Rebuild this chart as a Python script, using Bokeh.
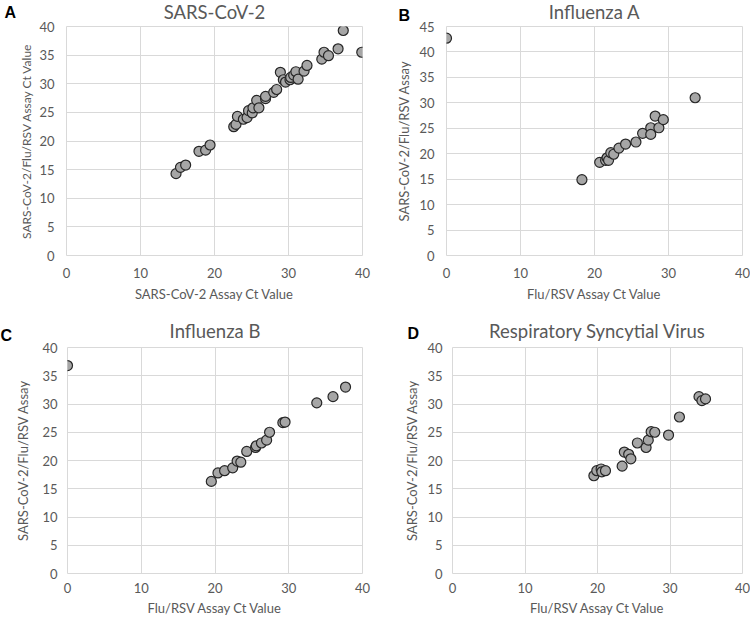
from bokeh.plotting import figure
from bokeh.models import Range1d, SingleIntervalTicker, Label
from bokeh.layouts import column, row
from bokeh.embed import file_html
from bokeh.resources import INLINE

# ---- data ----
a_x = [14.8, 15.4, 16.1, 17.9, 18.8, 19.4, 22.6, 22.9, 23.1, 23.9, 24.4, 24.6, 25.1, 25.2,
       25.7, 26.0, 26.9, 26.9, 28.0, 28.4, 28.9, 29.3, 29.6, 30.2, 30.3, 30.7, 31.0, 31.3,
       32.1, 32.5, 34.5, 34.8, 35.4, 36.7, 37.4, 39.9]
a_y = [14.3, 15.4, 15.8, 18.2, 18.4, 19.3, 22.5, 22.9, 24.3, 23.8, 24.1, 25.3, 24.9, 25.8,
       27.1, 25.8, 27.4, 27.8, 28.5, 29.0, 32.0, 30.7, 30.3, 30.7, 31.1, 31.5, 32.1, 30.8,
       32.2, 33.2, 34.3, 35.5, 34.9, 36.1, 39.3, 35.5]

b_x = [0.0, 18.3, 20.7, 21.5, 21.7, 21.9, 22.2, 22.6, 23.3, 24.2, 25.6, 26.5, 27.6, 27.6,
       28.2, 28.7, 29.3, 33.6]
b_y = [42.7, 14.9, 18.3, 18.7, 19.2, 18.7, 20.2, 19.9, 21.1, 21.9, 22.3, 24.0, 25.1, 23.8,
       27.4, 25.1, 26.7, 31.0]

c_x = [0.0, 19.5, 20.4, 21.3, 22.4, 23.0, 23.5, 24.3, 25.5, 25.6, 26.3, 27.0, 27.4, 29.2,
       29.5, 33.8, 36.0, 37.7]
c_y = [36.8, 16.3, 17.8, 18.2, 18.7, 19.9, 19.7, 21.6, 22.3, 22.6, 23.1, 23.6, 25.0, 26.7,
       26.8, 30.2, 31.3, 33.0]

d_x = [19.5, 19.9, 20.5, 20.6, 21.1, 23.4, 23.7, 24.3, 24.6, 25.5, 26.7, 27.0, 27.4, 27.9,
       29.8, 31.3, 34.0, 34.4, 34.9]
d_y = [17.3, 18.2, 18.5, 18.0, 18.2, 19.0, 21.5, 21.1, 20.3, 23.1, 22.3, 23.6, 25.1, 25.0,
       24.5, 27.7, 31.3, 30.6, 30.9]

titles = ["SARS-CoV-2", "Influenza A", "Influenza B", "Respiratory Syncytial Virus"]
letters = ["A", "B", "C", "D"]
x_titles = ["SARS-CoV-2 Assay Ct Value", "Flu/RSV Assay Ct Value",
            "Flu/RSV Assay Ct Value", "Flu/RSV Assay Ct Value"]
y_titles = ["SARS-CoV-2/Flu/RSV Assay Ct Value", "SARS-CoV-2/Flu/RSV Assay",
            "SARS-CoV-2/Flu/RSV Assay", "SARS-CoV-2/Flu/RSV Assay"]
y_max = [40, 45, 40, 40]

FONT = "Lato"
GRAY = "#595959"


def panel(xs, ys, title, letter, xt, yt, ymax, width, height, bl, br, bt, bb,
          tick_std, lab_std, ylab_size, letter_x, letter_dy, title_dy):
    p = figure(width=width, height=height, output_backend="svg", toolbar_location=None,
               x_range=Range1d(0, 40), y_range=Range1d(0, ymax),
               min_border_left=bl, min_border_right=br, min_border_top=bt,
               min_border_bottom=bb)
    p.outline_line_color = "#d9d9d9"
    p.xaxis.ticker = SingleIntervalTicker(interval=10)
    p.yaxis.ticker = SingleIntervalTicker(interval=5)
    p.xgrid.ticker = SingleIntervalTicker(interval=10)
    p.ygrid.ticker = SingleIntervalTicker(interval=5)
    p.grid.grid_line_color = "#d9d9d9"
    for ax in (p.xaxis[0], p.yaxis[0]):
        ax.axis_line_color = None
        ax.major_tick_line_color = None
        ax.minor_tick_line_color = None
        ax.major_tick_out = 0
        ax.major_tick_in = 0
        ax.minor_tick_out = 0
        ax.minor_tick_in = 0
        ax.major_label_text_font = FONT
        ax.major_label_text_font_size = "13px"
        ax.major_label_text_color = GRAY
        ax.axis_label_text_font = FONT
        ax.axis_label_text_font_style = "normal"
        ax.axis_label_text_color = GRAY
    p.xaxis.axis_label_text_font_size = "13px"
    p.yaxis.axis_label_text_font_size = ylab_size
    p.xaxis.axis_label = xt
    p.yaxis.axis_label = yt
    p.xaxis.major_label_standoff = tick_std[0]
    p.yaxis.major_label_standoff = tick_std[1]
    p.xaxis.axis_label_standoff = lab_std[0]
    p.yaxis.axis_label_standoff = lab_std[1]

    p.scatter(xs, ys, size=10, fill_color="#a6a6a6", line_color="#262626",
              line_width=1.2)

    # chart title: a label in the top side panel
    p.add_layout(Label(x=20, y=title_dy, x_units="data", y_units="screen",
                       text=title, text_align="center", text_baseline="alphabetic",
                       text_font=FONT, text_font_size="18.5px", text_color=GRAY), "above")

    fh = height - bt - bb
    p.add_layout(Label(x=letter_x, y=fh + letter_dy, x_units="screen", y_units="screen",
                       text=letter, text_align="left", text_baseline="top",
                       text_font="Liberation Sans", text_font_size="16px",
                       text_font_style="bold", text_color="black"), "left")
    return p


pa = panel(a_x, a_y, titles[0], letters[0], x_titles[0], y_titles[0], y_max[0],
           width=380, height=305, bl=66, br=18, bt=26, bb=50,
           tick_std=(12, 12), lab_std=(5, 2), ylab_size="12px", letter_x=0, letter_dy=23,
           title_dy=15)
pb = panel(b_x, b_y, titles[1], letters[1], x_titles[1], y_titles[1], y_max[1],
           width=370, height=305, bl=66, br=8, bt=26, bb=50,
           tick_std=(12, 12), lab_std=(5, 4), ylab_size="13px", letter_x=17, letter_dy=20,
           title_dy=15)
pc = panel(c_x, c_y, titles[2], letters[2], x_titles[2], y_titles[2], y_max[2],
           width=380, height=313, bl=63, br=18, bt=42, bb=44,
           tick_std=(9, 10), lab_std=(4, 8), ylab_size="13px", letter_x=0, letter_dy=20,
           title_dy=17)
pd = panel(d_x, d_y, titles[3], letters[3], x_titles[3], y_titles[3], y_max[3],
           width=370, height=313, bl=72, br=8, bt=42, bb=44,
           tick_std=(9, 10), lab_std=(4, 4), ylab_size="13px", letter_x=18, letter_dy=22,
           title_dy=17)

layout = column(row(pa, pb), row(pc, pd))
open("out.html", "w").write(file_html(layout, INLINE))
